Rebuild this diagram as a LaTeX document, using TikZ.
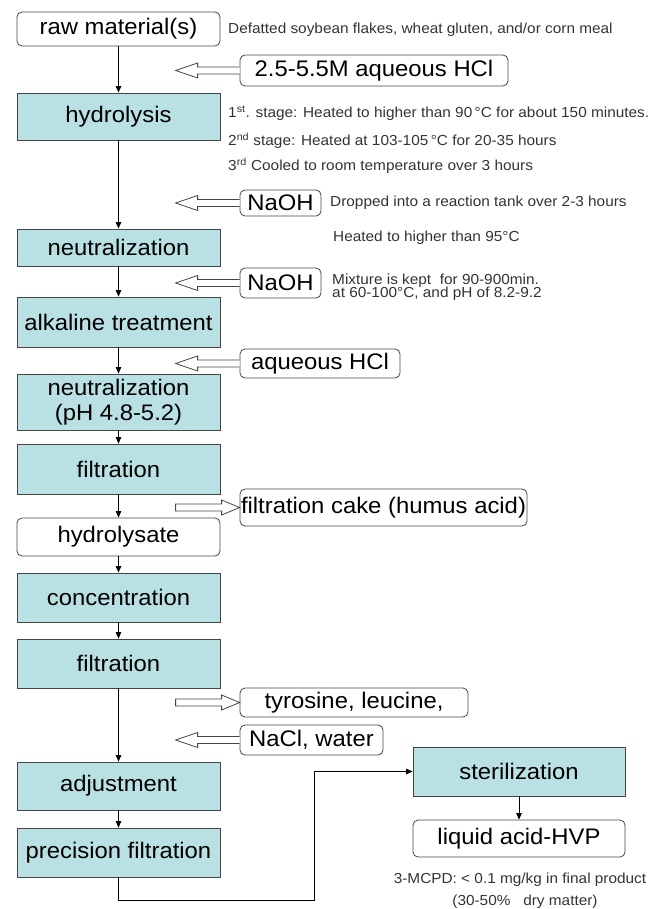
\documentclass[tikz,border=0pt]{standalone}
\usepackage{fontspec}
\setmainfont{Liberation Sans}[FakeStretch=1.06]
\usetikzlibrary{arrows.meta,calc}
\definecolor{boxfill}{RGB}{185,224,227}
\definecolor{edge}{RGB}{70,70,70}
\newcommand\hollowleft[1]{\draw[hollow] ($(#1.west)+(0,-3.5)$) -- ++(-42,0) -- ++(0,-4) -- ++(-22,7.5) -- ++(22,7.5) -- ++(0,-4) -- ++(42,0);}
\newcommand\hollowright[1]{\draw[hollow] (#1.west) -- ++(-18,-7.5) -- ++(0,4) -- ++(-46,0) -- ++(0,7) -- ++(46,0) -- ++(0,4) -- cycle;}
\begin{document}
\begin{tikzpicture}[x=1pt,y=-1pt,
  proc/.style={draw=edge, line width=0.8pt, fill=boxfill, minimum width=203pt, inner sep=0pt, font=\fontsize{22.5}{25}\selectfont, align=center},
  term/.style={proc, fill=white, rounded corners=5pt},
  side/.style={draw=edge, line width=0.8pt, fill=white, rounded corners=5pt, inner sep=0pt, font=\fontsize{22.5}{25}\selectfont},
  note/.style={font=\fontsize{14.5}{16}\selectfont, text=black!80, inner sep=0pt, anchor=west},
  flow/.style={draw=black, line width=0.8pt, -{Triangle[length=6.5pt,width=5.5pt]}},
  hollow/.style={draw=edge, line width=0.8pt, fill=white}]
\useasboundingbox (0,0) rectangle (665,909);
% main column
\node[term, minimum height=34pt] (raw) at (118.5,29) {raw material(s)};
\node[proc, minimum height=47pt] (hyd) at (118.5,116.5) {hydrolysis};
\node[proc, minimum height=37pt] (neu1) at (118.5,247.5) {neutralization};
\node[proc, minimum height=50pt] (alk) at (118.5,322) {alkaline treatment};
\node[proc, minimum height=56pt] (neu2) at (118.5,402) {neutralization\\(pH 4.8-5.2)};
\node[proc, minimum height=50pt] (fil1) at (118.5,469) {filtration};
\node[term, minimum height=38pt] (hyl) at (118.5,537) {hydrolysate};
\node[proc, minimum height=49pt] (con) at (118.5,597.5) {concentration};
\node[proc, minimum height=49pt] (fil2) at (118.5,663.5) {filtration};
\node[proc, minimum height=48pt] (adj) at (118.5,786) {adjustment};
\node[proc, minimum height=49pt] (pre) at (118.5,852.5) {precision filtration};
\node[proc, minimum width=212pt, minimum height=49pt] (ste) at (519,771.5) {sterilization};
\node[term, minimum width=212pt, minimum height=37pt] (liq) at (519,838.5) {liquid acid-HVP};
% side boxes
\node[side, minimum width=268pt, minimum height=31pt] (hcl) at (374,70.5) {2.5-5.5M aqueous HCl};
\node[side, minimum width=81pt, minimum height=26pt] (naoh1) at (280.5,203) {NaOH};
\node[side, minimum width=81pt, minimum height=30pt] (naoh2) at (280.5,283) {NaOH};
\node[side, minimum width=160pt, minimum height=29pt] (aqh) at (320,363.5) {aqueous HCl};
\node[side, minimum width=287pt, minimum height=37pt] (cake) at (383.5,507.5) {filtration cake (humus acid)};
\node[side, minimum width=228pt, minimum height=29pt] (tyr) at (354,702.5) {tyrosine, leucine,};
\node[side, minimum width=143pt, minimum height=30pt] (nacl) at (311.5,740) {NaCl, water};
% notes
\node[note] (n0) at (228,30) {Defatted soybean flakes, wheat gluten, and/or corn meal};
\node[note] (n1) at (228,113) {1\textsuperscript{st}. stage: Heated to higher than 90\,°C for about 150 minutes.};
\node[note] (n2) at (228,141) {2\textsuperscript{nd} stage: Heated at 103-105\,°C for 20-35 hours};
\node[note] (n3) at (228,166) {3\textsuperscript{rd} Cooled to room temperature over 3 hours};
\node[note] (n4) at (330,203) {Dropped into a reaction tank over 2-3 hours};
\node[note] (n5) at (333,238) {Heated to higher than 95°C};
\node[note, align=left] (n6) at (332,287) {Mixture is kept\ \ for 90-900min.\\[-3pt]at 60-100°C, and pH of 8.2-9.2};
\node[note, anchor=center] (n7) at (520,880) {3-MCPD: < 0.1 mg/kg in final product};
\node[note, anchor=center] (n8) at (525,902) {(30-50\%\ \ \ dry matter)};
% connectors
\draw[flow] (raw) -- (hyd);
\draw[flow] (hyd) -- (neu1);
\draw[flow] (neu1) -- (alk);
\draw[flow] (alk) -- (neu2);
\draw[flow] (neu2) -- (fil1);
\draw[flow] (fil1) -- (hyl);
\draw[flow] (hyl) -- (con);
\draw[flow] (con) -- (fil2);
\draw[flow] (fil2) -- (adj);
\draw[flow] (adj) -- (pre);
\draw[flow] (pre.south) -- ++(0,23) -| ([xshift=-98pt]ste.west) -- (ste.west);
\draw[flow] (ste) -- (liq);
% hollow arrows
\hollowleft{hcl}
\hollowleft{naoh1}
\hollowleft{naoh2}
\hollowleft{aqh}
\hollowright{cake}
\hollowright{tyr}
\hollowleft{nacl}
\end{tikzpicture}
\end{document}
